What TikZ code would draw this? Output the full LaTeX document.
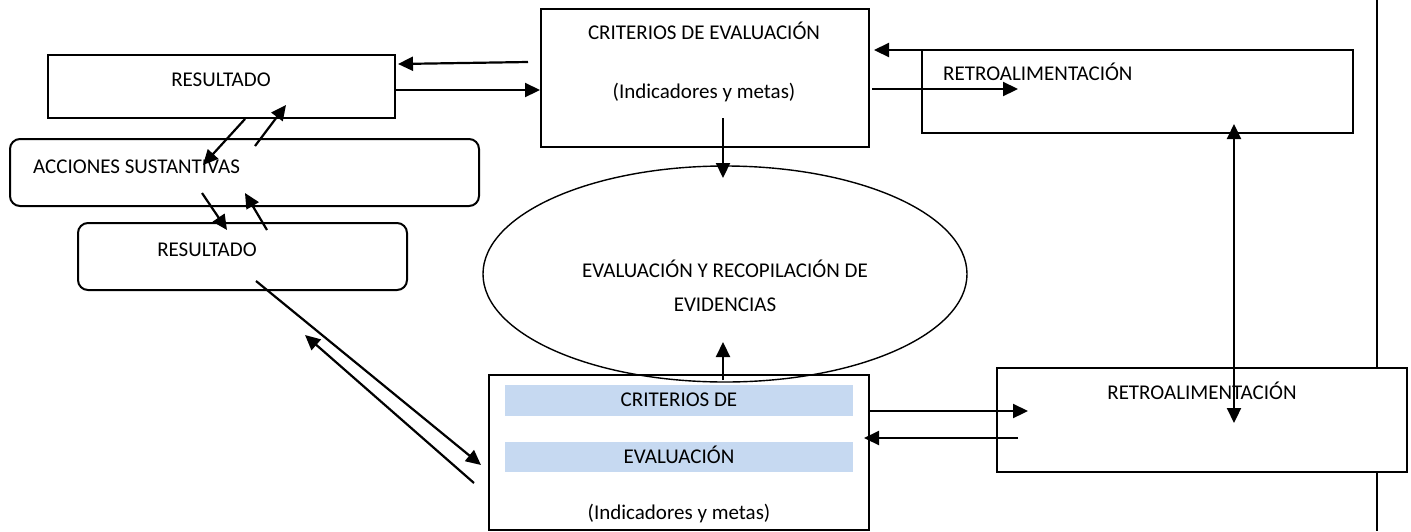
\documentclass[tikz,border=0pt]{standalone}
\usepackage{fontspec}
\setmainfont{Carlito}
\usetikzlibrary{arrows.meta,shapes.geometric}
\definecolor{bandblue}{RGB}{198,217,241}
\begin{document}
\begin{tikzpicture}[x=1pt,y=-1pt,
  box/.style={draw, line width=2pt, fill=white, inner sep=0pt},
  rbox/.style={box, rounded corners=10pt},
  lbl/.style={font=\fontsize{21}{25}\selectfont, anchor=base, inner sep=0pt},
  arr/.style={line width=2.2pt, -{Triangle[length=15pt,width=14pt]}},
  darr/.style={line width=2.2pt, {Triangle[length=15pt,width=14pt]}-{Triangle[length=15pt,width=14pt]}},
  band/.style={fill=bandblue, draw=none, inner sep=0pt}]
\useasboundingbox (0,0) rectangle (1411,531);
% right margin line
\coordinate (vt) at (1377,0);
\coordinate (vb) at (1377,531);
\draw[line width=2.4pt] (vt) -- (vb);
% boxes
\node[box, minimum width=347pt, minimum height=63pt] (res1) at (221.5,86.5) {};
\node[lbl] (res1t) at (221,86.7) {RESULTADO};
\node[rbox, minimum width=469pt, minimum height=67pt] (acc) at (244.5,172.5) {};
\node[lbl, anchor=base west] (acct) at (33,173.7) {ACCIONES SUSTANTIVAS};
\node[rbox, minimum width=329pt, minimum height=67pt] (res2) at (242.5,256.5) {};
\node[lbl] (res2t) at (207,256.7) {RESULTADO};
\node[box, minimum width=328pt, minimum height=138pt] (crit1) at (705,78) {};
\node[lbl] (crit1a) at (704,39.7) {CRITERIOS DE EVALUACIÓN};
\node[lbl] (crit1b) at (704,98.7) {(Indicadores y metas)};
\node[box, minimum width=431pt, minimum height=83pt] (retro1) at (1137.5,91.5) {};
\node[lbl, anchor=base west] (retro1t) at (943,80.7) {RETROALIMENTACIÓN};
\node[box, minimum width=380pt, minimum height=155pt] (crit2) at (679,452.5) {};
\node[band, minimum width=348pt, minimum height=31pt] (band1) at (679,400.5) {};
\node[band, minimum width=348pt, minimum height=30pt] (band2) at (679,457) {};
\node[lbl] (crit2a) at (679,406.7) {CRITERIOS DE};
\node[lbl] (crit2b) at (679,463.7) {EVALUACIÓN};
\node[lbl] (crit2c) at (679,519.7) {(Indicadores y metas)};
\node[box, minimum width=410pt, minimum height=104pt] (retro2) at (1202,420) {};
\node[lbl] (retro2t) at (1202,399.7) {RETROALIMENTACIÓN};
\node[draw, ellipse, line width=1.4pt, minimum width=484pt, minimum height=216pt, inner sep=0pt] (ell) at (725,274) {};
\node[lbl] (ellt1) at (725,277.7) {EVALUACIÓN Y RECOPILACIÓN DE};
\node[lbl] (ellt2) at (725,311.7) {EVIDENCIAS};
% arrow end points
\coordinate (a1s) at (528,62);   \coordinate (a1e) at (398,64);
\coordinate (a2s) at (395,90);   \coordinate (a2e) at (540,90);
\coordinate (a3s) at (245,119);  \coordinate (a3e) at (203,165);
\coordinate (a4s) at (255,146);  \coordinate (a4e) at (286,105);
\coordinate (a5s) at (202,193);  \coordinate (a5e) at (227,230);
\coordinate (a6s) at (267,230);  \coordinate (a6e) at (245,193);
\coordinate (a7s) at (723,118);  \coordinate (a7e) at (723,178);
\coordinate (a8s) at (1007,50);  \coordinate (a8e) at (874,50);
\coordinate (a9s) at (872,89);   \coordinate (a9e) at (1018,89);
\coordinate (a10s) at (1234,124); \coordinate (a10e) at (1234,423);
\coordinate (a11s) at (256,281); \coordinate (a11e) at (481,465);
\coordinate (a12s) at (474,483); \coordinate (a12e) at (305,335);
\coordinate (a13s) at (723,380); \coordinate (a13e) at (723,342);
\coordinate (a14s) at (869,411); \coordinate (a14e) at (1028,411);
\coordinate (a15s) at (1018,438); \coordinate (a15e) at (864,438);
% arrows
\draw[arr] (a1s) -- (a1e);
\draw[arr] (a2s) -- (a2e);
\draw[arr] (a3s) -- (a3e);
\draw[arr] (a4s) -- (a4e);
\draw[arr] (a5s) -- (a5e);
\draw[arr] (a6s) -- (a6e);
\draw[arr] (a7s) -- (a7e);
\draw[arr] (a8s) -- (a8e);
\draw[arr] (a9s) -- (a9e);
\draw[darr] (a10s) -- (a10e);
\draw[arr] (a11s) -- (a11e);
\draw[arr] (a12s) -- (a12e);
\draw[arr] (a13s) -- (a13e);
\draw[arr] (a14s) -- (a14e);
\draw[arr] (a15s) -- (a15e);
\end{tikzpicture}
\end{document}
